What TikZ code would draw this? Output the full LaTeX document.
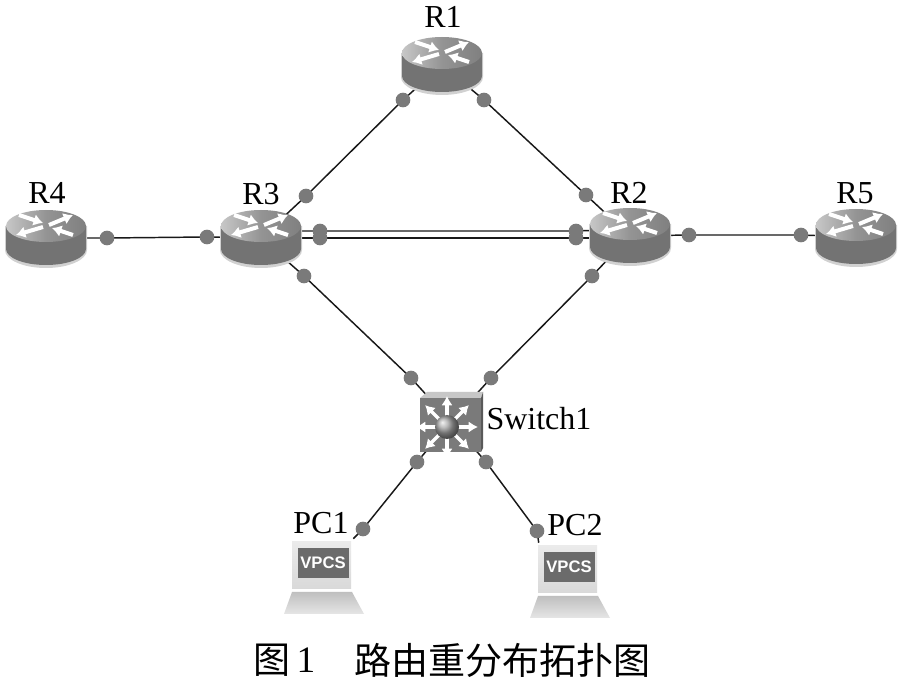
\documentclass[tikz,border=0pt]{standalone}
\usepackage{fontspec}
\setmainfont{Liberation Serif}
\newfontfamily\cjk{Noto Sans CJK SC}
\newfontfamily\arialf{Liberation Sans}
\usetikzlibrary{arrows.meta,backgrounds}
\tikzset{
  x=0.75pt,y=-0.75pt,
  lbl/.style={inner sep=0pt,font=\fontsize{24}{28}\selectfont},
  captext/.style={inner sep=0pt,font=\cjk\fontsize{27.8}{30}\selectfont},
  capnum/.style={inner sep=0pt,font=\fontsize{28}{30}\selectfont},
  port/.style={circle,fill=black!52,draw=none,minimum size=11pt,inner sep=0pt},
  link/.style={draw=black!90,line width=1.1pt},
  device/.style={inner sep=0pt,minimum width=60pt,minimum height=42pt,draw=none},
  pcbox/.style={inner sep=0pt,minimum width=45pt,minimum height=45pt,draw=none},
  wa/.style={draw=white,line width=3pt,-{Latex[length=7pt,width=9pt]}},
  routericon/.pic={
    \fill[black!18] (-41,-12) -- (-41,12) arc[start angle=180,end angle=0,x radius=41,y radius=18] -- (41,-12) -- cycle;
    \fill[black!55] (-40,-12) -- (-40,11) arc[start angle=180,end angle=0,x radius=40,y radius=16] -- (40,-12) -- cycle;
    \shade[left color=black!22,right color=black!50,middle color=black!42] (0,-12) ellipse[x radius=40,y radius=16];
    \draw[wa] (-27,-23) -- (-3,-15);
    \draw[wa] (3,-13) -- (27,-23);
    \draw[wa] (27,-3) -- (6,-10);
    \draw[wa] (-3,-11) -- (-30,-3);
  },
  switchicon/.pic={
    \fill[black!22] (-31,-24) -- (-24,-30) -- (32,-30) -- (30,-24) -- cycle;
    \fill[black!65] (30,-24) -- (32,-30) -- (32,26) -- (30,30) -- cycle;
    \fill[black!52] (-31,-24) rectangle (30,30);
    \foreach \a in {0,45,...,315}{
      \draw[wa,line width=2.6pt,-{Latex[length=7pt,width=8.5pt]}] (-4,5)++(\a:9) -- ++(\a:22);
    }
    \shade[ball color=black!35] (-4,5) circle[radius=12];
  },
  pcicon/.pic={
    \shade[top color=black!8,bottom color=black!15] (-31,-27) rectangle (28,20);
    \fill[black!58] (-25,-21) rectangle (26,9);
    \node[inner sep=0pt,text=white,font=\arialf\bfseries\fontsize{12.5}{14}\selectfont] at (0,-6) {VPCS};
    \shade[top color=black!25,bottom color=black!10] (-31,23) -- (29,23) -- (41,45) -- (-39,45) -- cycle;
  }
}
\begin{document}
\begin{tikzpicture}
\useasboundingbox (0,0) rectangle (901,684);
% devices (anchors)
\node[device] (r1) at (442,65) {};
\node[device] (r2) at (630,236) {};
\node[device] (r3) at (261,238) {};
\node[device] (r4) at (46,238) {};
\node[device] (r5) at (856,237) {};
\node[device,minimum width=46pt,minimum height=45pt] (sw) at (451,422) {};
\node[pcbox] (pc1) at (323,569) {};
\node[pcbox] (pc2) at (569,573) {};
% ports
\node[port] (p1a) at (403,100) {};
\node[port] (p1b) at (484,100) {};
\node[port] (p3a) at (306,196) {};
\node[port] (p2a) at (586,195) {};
\node[port] (p3b) at (207,237) {};
\node[port] (p4) at (107,238) {};
\node[port] (p2e) at (689,235) {};
\node[port] (p5) at (801,235) {};
\node[port] (p3c) at (320,231) {};
\node[port] (p3d) at (320,238) {};
\node[port] (p2c) at (576,231) {};
\node[port] (p2d) at (576,238) {};
\node[port] (p3e) at (304,276) {};
\node[port] (p2f) at (592,276) {};
\node[port] (swa) at (411,378) {};
\node[port] (swb) at (491,378) {};
\node[port] (swc) at (417,462) {};
\node[port] (swd) at (486,462) {};
\node[port] (pca) at (363,529) {};
\node[port] (pcb) at (537,531) {};
\begin{scope}[on background layer]
\fill[white] (0,0) rectangle (901,684);
\draw[link] (r1.center) -- (p1a.center) -- (p3a.center) -- (r3.center);
\draw[link] (r1.center) -- (p1b.center) -- (p2a.center) -- (r2.center);
\draw[link] (r4.center) -- (p4.center) -- (p3b.center) -- (r3.center);
\draw[link] (r2.center) -- (p2e.center) -- (p5.center) -- (r5.center);
\draw[link] (r3.center) ++(0,-7) -- (p3c.center) -- (p2c.center) -- ([yshift=5.25pt]r2.center);
\draw[link] (r3.center) -- (p3d.center) -- (p2d.center) -- ([yshift=-1.5pt]r2.center);
\draw[link] (r3.center) -- (p3e.center) -- (swa.center) -- (sw.center);
\draw[link] (r2.center) -- (p2f.center) -- (swb.center) -- (sw.center);
\draw[link] (sw.center) -- (swc.center) -- (pca.center) -- (pc1.north east);
\draw[link] (sw.center) -- (swd.center) -- (pcb.center) -- (pc2.north west);
\end{scope}
% icons
\pic at (r1) {routericon};
\pic at (r2) {routericon};
\pic at (r3) {routericon};
\pic at (r4) {routericon};
\pic at (r5) {routericon};
\pic at (sw) {switchicon};
\pic at (pc1) {pcicon};
\pic at (pc2) {pcicon};
% labels
\node[lbl] (l1) at (443,17) {R1};
\node[lbl] (l2) at (629,193) {R2};
\node[lbl] (l3) at (261,194) {R3};
\node[lbl] (l4) at (47,193) {R4};
\node[lbl] (l5) at (855,193) {R5};
\node[lbl] (l6) at (539,419) {Switch1};
\node[lbl] (l7) at (321,523) {PC1};
\node[lbl] (l8) at (575,525) {PC2};
% caption
\node[captext] (c1) at (272,660) {图};
\node[capnum] (c2) at (306,660) {1};
\node[captext,anchor=west] (c3) at (354,660) {路由重分布拓扑图};
\end{tikzpicture}
\end{document}
